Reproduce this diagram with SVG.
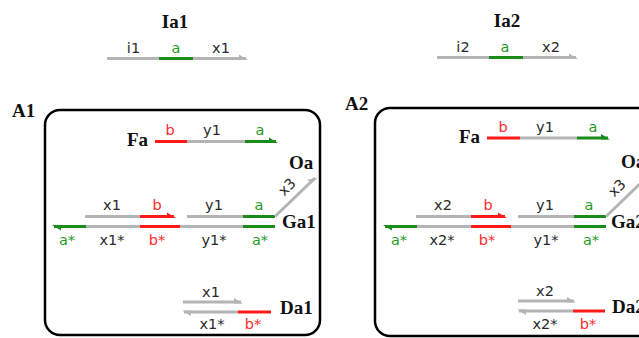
<svg xmlns="http://www.w3.org/2000/svg" xmlns:xlink="http://www.w3.org/1999/xlink" width="639" height="338" viewBox="0 0 639 338">
<style>
.s{fill:none;stroke-width:3;stroke-linecap:butt}
.g{stroke:#b4b4b4}.r{stroke:#ff1a1a}.n{stroke:#1a8c1a}
.fg{fill:#b4b4b4}.fr{fill:#ff1a1a}.fn{fill:#1a8c1a}
.l{font-family:"DejaVu Sans",Verdana,sans-serif;font-size:14.5px;text-anchor:middle;fill:#2a2a2a}
.lr{fill:#ff2a2a}.ln{fill:#1f9a1f}
.t{font-family:"Liberation Serif","Times New Roman",serif;font-weight:bold;font-size:19px;fill:#111}
.box{fill:none;stroke:#000;stroke-width:2.5}
</style>
<defs>
<path id="ha" d="M1,1.5 L-8,-4 L-8,1.5 Z"/>
</defs>

<g id="Ia1">
<text class="t" x="175" y="28" text-anchor="middle">Ia1</text>
<path class="s g" d="M107,58.5H159M193,58.5H246"/>
<path class="s n" d="M159,58.5H193"/>
<use href="#ha" class="fg" transform="translate(247,58.5)"/>
<text class="l" x="133.5" y="53">i1</text>
<text class="l ln" x="176" y="53">a</text>
<text class="l" x="221" y="53">x1</text>
</g>

<g id="Ia2">
<text class="t" x="507" y="27" text-anchor="middle">Ia2</text>
<path class="s g" d="M437,57.5H489M523,57.5H576"/>
<path class="s n" d="M489,57.5H523"/>
<use href="#ha" class="fg" transform="translate(577,57.5)"/>
<text class="l" x="463" y="52">i2</text>
<text class="l ln" x="505" y="52">a</text>
<text class="l" x="551" y="52">x2</text>
</g>

<g id="A1">
<rect class="box" x="45" y="110" width="275" height="225" rx="15"/>
<text class="t" x="12" y="117" font-size="22">A1</text>
</g>

<g id="A2">
<rect class="box" x="375" y="108" width="300" height="228" rx="15"/>
<text class="t" x="345" y="110" font-size="22">A2</text>
</g>

<g id="Fa1">
<text class="t" x="148" y="146" text-anchor="end">Fa</text>
<path class="s r" d="M155,141.5H187"/>
<path class="s g" d="M187,141.5H245"/>
<path class="s n" d="M245,141.5H276"/>
<use href="#ha" class="fn" transform="translate(277,141.5)"/>
<text class="l lr" x="170" y="135">b</text>
<text class="l" x="212" y="135">y1</text>
<text class="l ln" x="260" y="135">a</text>
</g>

<g id="Fa2">
<text class="t" x="480" y="143" text-anchor="end">Fa</text>
<path class="s r" d="M487,138H520"/>
<path class="s g" d="M520,138H577"/>
<path class="s n" d="M577,138H608"/>
<use href="#ha" class="fn" transform="translate(609,138)"/>
<text class="l lr" x="503" y="132">b</text>
<text class="l" x="545" y="132">y1</text>
<text class="l ln" x="593" y="132">a</text>
</g>

<g id="Ga1">
<path class="s g" d="M85,216.5H140M187,216.5H243"/>
<path class="s r" d="M140,216.5H174"/>
<use href="#ha" class="fr" transform="translate(175,216.5)"/>
<path class="s n" d="M243,216.5H275"/>
<path class="s n" d="M54,226.5H86M243,226.5H275"/>
<use href="#ha" class="fn" transform="translate(53,226.5) rotate(180)"/>
<path class="s g" d="M86,226.5H140M180,226.5H243"/>
<path class="s r" d="M140,226.5H180"/>
<text class="l" x="112" y="210">x1</text>
<text class="l lr" x="157" y="210">b</text>
<text class="l" x="214" y="210">y1</text>
<text class="l ln" x="259" y="210">a</text>
<text class="l ln" x="67" y="245">a*</text>
<text class="l" x="112" y="245">x1*</text>
<text class="l lr" x="157" y="245">b*</text>
<text class="l" x="214" y="245">y1*</text>
<text class="l ln" x="260" y="245">a*</text>
<text class="t" x="282" y="228">Ga1</text>
</g>

<g id="Oa1">
<path class="s g" d="M275,216.5L315,178"/>
<use href="#ha" class="fg" transform="translate(316,177) rotate(-44)"/>
<text class="l" x="287" y="192" transform="rotate(-45 287 187)">x3</text>
<text class="t" x="289" y="169">Oa</text>
</g>

<g id="Da1">
<path class="s g" d="M183,302H241"/>
<use href="#ha" class="fg" transform="translate(242,302)"/>
<path class="s g" d="M184,312H238"/>
<use href="#ha" class="fg" transform="translate(183,312) rotate(180)"/>
<path class="s r" d="M238,312H271"/>
<text class="l" x="211" y="297">x1</text>
<text class="l" x="212" y="329">x1*</text>
<text class="l lr" x="253" y="329">b*</text>
<text class="t" x="280" y="314">Da1</text>
</g>

<g id="Ga2">
<path class="s g" d="M416,216.5H471M518,216.5H574"/>
<path class="s r" d="M471,216.5H505"/>
<use href="#ha" class="fr" transform="translate(506,216.5)"/>
<path class="s n" d="M574,216.5H606"/>
<path class="s n" d="M385,226.5H417M574,226.5H606"/>
<use href="#ha" class="fn" transform="translate(384,226.5) rotate(180)"/>
<path class="s g" d="M417,226.5H471M511,226.5H574"/>
<path class="s r" d="M471,226.5H511"/>
<text class="l" x="443" y="210">x2</text>
<text class="l lr" x="488" y="210">b</text>
<text class="l" x="545" y="210">y1</text>
<text class="l ln" x="589" y="210">a</text>
<text class="l ln" x="399" y="245">a*</text>
<text class="l" x="442" y="245">x2*</text>
<text class="l lr" x="487" y="245">b*</text>
<text class="l" x="546" y="245">y1*</text>
<text class="l ln" x="591" y="245">a*</text>
<text class="t" x="611" y="228">Ga2</text>
</g>

<g id="Oa2">
<path class="s g" d="M606,216.5L646,178"/>
<text class="l" x="617" y="193" transform="rotate(-45 617 188)">x3</text>
<text class="t" x="621" y="168">Oa</text>
</g>

<g id="Da2">
<path class="s g" d="M518,301H574"/>
<use href="#ha" class="fg" transform="translate(575,301)"/>
<path class="s g" d="M519,311H573"/>
<use href="#ha" class="fg" transform="translate(518,311) rotate(180)"/>
<path class="s r" d="M573,311H605"/>
<text class="l" x="545" y="296">x2</text>
<text class="l" x="545" y="329">x2*</text>
<text class="l lr" x="588" y="329">b*</text>
<text class="t" x="612" y="313">Da2</text>
</g>
</svg>
